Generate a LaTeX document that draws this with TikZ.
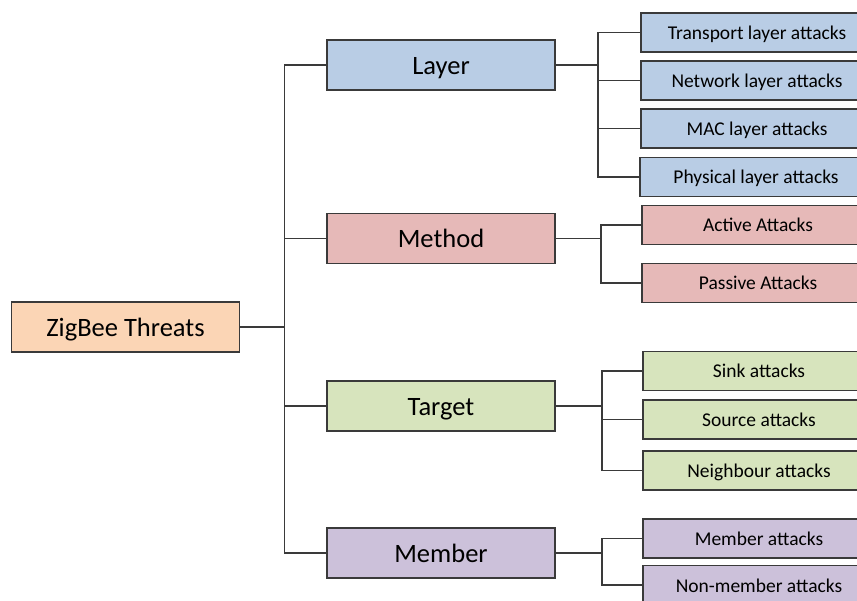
\documentclass[tikz,border=0pt]{standalone}
\usepackage{fontspec}
\setmainfont{Carlito}
\usepackage{tikz}
\usetikzlibrary{positioning}
\definecolor{edgegray}{HTML}{3A3A3A}
\definecolor{rootfill}{HTML}{FBD5B5}
\definecolor{layerfill}{HTML}{B9CDE5}
\definecolor{methodfill}{HTML}{E6B9B8}
\definecolor{targetfill}{HTML}{D7E4BD}
\definecolor{memberfill}{HTML}{CCC1DA}
\tikzset{
  mainbox/.style = {draw = edgegray, line width = 1.6pt, minimum width = 228pt,
    minimum height = 50pt, inner sep = 0, text height = 19pt, text depth = 0pt,
    font = \fontsize{26.5}{30}\selectfont},
  subbox/.style = {draw = edgegray, line width = 1.6pt, minimum width = 232pt,
    minimum height = 39pt, inner sep = 0, text height = 14pt, text depth = 0pt,
    font = \fontsize{19.5}{23}\selectfont},
  link/.style = {draw = edgegray, line width = 1.6pt}
}

\begin{document}
\begin{tikzpicture}[x=1pt, y=-1pt]
      \clip (0, 0) rectangle (857, 601);
      \useasboundingbox (0, 0) rectangle (857, 601);

      \node [mainbox, fill = rootfill] (threats) at (125.5, 327) {ZigBee Threats};

      \node [mainbox, fill = layerfill] (layer) at (441, 65) {Layer};
      \node [mainbox, fill = methodfill] (method) at (441, 238.5) {Method};
      \node [mainbox, fill = targetfill] (target) at (441, 406) {Target};
      \node [mainbox, fill = memberfill] (member) at (441, 553) {Member};

      \node [subbox, fill = layerfill] (transport) at (757, 32.5) {Transport layer attacks};
      \node [subbox, fill = layerfill] (network) at (757, 80.5) {Network layer attacks};
      \node [subbox, fill = layerfill] (mac) at (757, 128.5) {MAC layer attacks};
      \node [subbox, fill = layerfill] (physical) at (756, 177) {Physical layer attacks};

      \node [subbox, fill = methodfill] (active) at (758, 225) {Active Attacks};
      \node [subbox, fill = methodfill] (passive) at (758, 283) {Passive Attacks};

      \node [subbox, fill = targetfill] (sink) at (759, 371) {Sink attacks};
      \node [subbox, fill = targetfill] (source) at (759, 419.5) {Source attacks};
      \node [subbox, fill = targetfill] (neighbour) at (759, 470.5) {Neighbour attacks};

      \node [subbox, fill = memberfill] (memberatt) at (759, 538.5) {Member attacks};
      \node [subbox, fill = memberfill] (nonmember) at (759, 585) {Non-member attacks};

      \foreach \cat in {layer, method, target, member}
        \draw [link] (threats.east) -- ++(44, 0) |- (\cat.west);

      \foreach \sub in {transport, network, mac, physical}
        \draw [link] (layer.east) -- ++(42, 0) |- (\sub.west);
      \foreach \sub in {active, passive}
        \draw [link] (method.east) -- ++(45, 0) |- (\sub.west);
      \foreach \sub in {sink, source, neighbour}
        \draw [link] (target.east) -- ++(46, 0) |- (\sub.west);
      \foreach \sub in {memberatt, nonmember}
        \draw [link] (member.east) -- ++(46, 0) |- (\sub.west);
    \end{tikzpicture}
\end{document}
